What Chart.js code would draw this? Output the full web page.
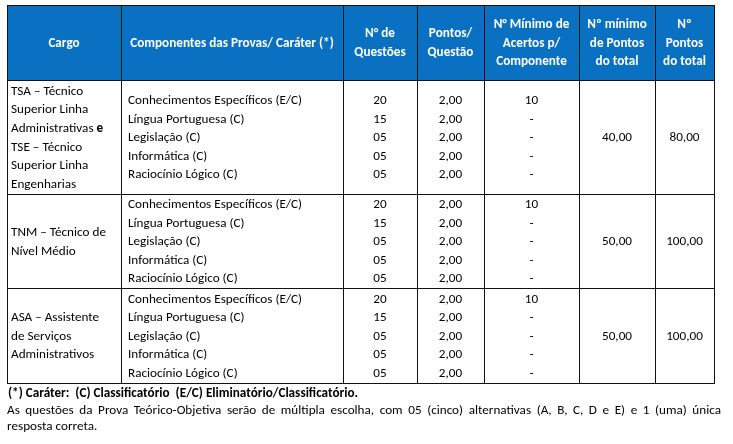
<!DOCTYPE html>
<html lang="pt-BR">
<head>
<meta charset="utf-8">
<title>Quadro de provas</title>
<script src="https://cdn.jsdelivr.net/npm/chart.js@4.4.0/dist/chart.umd.min.js"></script>
<style>
  html, body { margin: 0; padding: 0; background: #fff; }
  #tabela { display: block; }
</style>
</head>
<body>
<canvas id="tabela" width="733" height="444"></canvas>
<script>
// dados do quadro
const cabecalhos = [
  ["Cargo"],
  ["Componentes das Provas/ Caráter (*)"],
  ["N° de", "Questões"],
  ["Pontos/", "Questão"],
  ["N° Mínimo de", "Acertos p/", "Componente"],
  ["Nº mínimo", "de Pontos", "do total"],
  ["Nº", "Pontos", "do total"]
];
const cargos = [
  ["TSA – Técnico", "Superior Linha", "Administrativas *e", "TSE – Técnico", "Superior Linha", "Engenharias"],
  ["TNM – Técnico de", "Nível Médio"],
  ["ASA – Assistente", "de Serviços", "Administrativos"]
];
const componentes = ["Conhecimentos Específicos (E/C)", "Língua Portuguesa (C)", "Legislação (C)", "Informática (C)", "Raciocínio Lógico (C)"];
const numQuestoes = ["20", "15", "05", "05", "05"];
const pontosPorQuestao = ["2,00", "2,00", "2,00", "2,00", "2,00"];
const minimoAcertos = ["10", "-", "-", "-", "-"];
const minimoPontosTotal = ["40,00", "50,00", "50,00"];
const pontosTotal = ["80,00", "100,00", "100,00"];
const notaCarater = "(*) Caráter:  (C) Classificatório  (E/C) Eliminatório/Classificatório.";
const notaTexto = [
  "As questões da Prova Teórico-Objetiva serão de múltipla escolha, com 05 (cinco) alternativas (A, B, C, D e E) e 1 (uma) única",
  "resposta correta."
];

// layout (em unidades das escalas)
const colunas = [7, 121, 343, 417, 484, 579, 655, 714];
const limitesGrupo = [80, 194, 288, 383];
const topoTabela = 5;
const entrelinha = 18.6;
const fonte = "Carlito, 'Open Sans', sans-serif";
const tamanho = 13;
const larguraRef = 174; // largura de "Conhecimentos Específicos (E/C)" no original
const azul = "#0A70C2";

let escala = 1;

function escreve(ctx, s, x, y, alinhamento, negrito, cor) {
  ctx.save();
  ctx.font = (negrito ? "bold " : "") + tamanho + "px " + fonte;
  ctx.fillStyle = cor || "#000";
  ctx.textBaseline = "middle";
  ctx.textAlign = "left";
  const w = ctx.measureText(s).width * escala;
  let x0 = x;
  if (alinhamento === "center") x0 = x - w / 2;
  if (alinhamento === "right") x0 = x - w;
  ctx.translate(x0, y);
  ctx.scale(escala, 1);
  ctx.fillText(s, 0, 0);
  ctx.restore();
  return w;
}

function largura(ctx, s, negrito) {
  ctx.save();
  ctx.font = (negrito ? "bold " : "") + tamanho + "px " + fonte;
  const w = ctx.measureText(s).width * escala;
  ctx.restore();
  return w;
}

const tabelaPlugin = {
  id: "tabela",
  afterDraw(chart) {
    const ctx = chart.ctx;
    const px = v => chart.scales.x.getPixelForValue(v);
    const py = v => chart.scales.y.getPixelForValue(v);

    ctx.save();
    ctx.font = tamanho + "px " + fonte;
    escala = larguraRef / ctx.measureText(componentes[0]).width;
    ctx.restore();

    // fundo do cabeçalho
    ctx.fillStyle = azul;
    ctx.fillRect(px(colunas[0]), py(topoTabela), px(colunas[7]) - px(colunas[0]), py(limitesGrupo[0]) - py(topoTabela));

    // textos do cabeçalho
    const meioCab = (topoTabela + limitesGrupo[0]) / 2 + 1;
    cabecalhos.forEach((linhas, c) => {
      const cx = (colunas[c] + colunas[c + 1]) / 2;
      linhas.forEach((t, i) => {
        const y = meioCab + (i - (linhas.length - 1) / 2) * entrelinha;
        escreve(ctx, t, px(cx), py(y), "center", true, "#fff");
      });
    });

    // grupos
    for (let g = 0; g < cargos.length; g++) {
      const meio = (limitesGrupo[g] + limitesGrupo[g + 1]) / 2 + 1;
      cargos[g].forEach((t, i) => {
        const y = py(meio + (i - (cargos[g].length - 1) / 2) * entrelinha);
        const partes = t.split("*");
        let x = px(colunas[0] + 4);
        partes.forEach((p, k) => {
          if (!p) return;
          x += escreve(ctx, p, x, y, "left", k > 0);
        });
      });
      componentes.forEach((t, i) => {
        const y = py(meio + (i - (componentes.length - 1) / 2) * entrelinha);
        escreve(ctx, t, px(colunas[1] + 7), y, "left", false);
        escreve(ctx, numQuestoes[i], px((colunas[2] + colunas[3]) / 2), y, "center", false);
        escreve(ctx, pontosPorQuestao[i], px((colunas[3] + colunas[4]) / 2), y, "center", false);
        escreve(ctx, minimoAcertos[i], px((colunas[4] + colunas[5]) / 2), y, "center", false);
      });
      escreve(ctx, minimoPontosTotal[g], px((colunas[5] + colunas[6]) / 2), py(meio), "center", false);
      escreve(ctx, pontosTotal[g], px((colunas[6] + colunas[7]) / 2), py(meio), "center", false);
    }

    // grade
    ctx.save();
    ctx.strokeStyle = "#111";
    ctx.lineWidth = 1;
    ctx.beginPath();
    const ultimo = limitesGrupo[limitesGrupo.length - 1];
    colunas.forEach(c => {
      ctx.moveTo(Math.round(px(c)) + 0.5, py(topoTabela));
      ctx.lineTo(Math.round(px(c)) + 0.5, py(ultimo) + 0.5);
    });
    [topoTabela].concat(limitesGrupo).forEach(r => {
      ctx.moveTo(px(colunas[0]), Math.round(py(r)) + 0.5);
      ctx.lineTo(px(colunas[7]) + 1, Math.round(py(r)) + 0.5);
    });
    ctx.stroke();
    ctx.restore();

    // notas
    escreve(ctx, notaCarater, px(8), py(394), "left", true);
    const palavras = notaTexto[0].split(" ");
    const soma = palavras.reduce((s, p) => s + largura(ctx, p, false), 0);
    const vao = (px(721) - px(7) - soma) / (palavras.length - 1);
    let x = px(7);
    palavras.forEach(p => {
      x += escreve(ctx, p, x, py(410.5), "left", false) + vao;
    });
    escreve(ctx, notaTexto[1], px(7), py(427), "left", false);
  }
};

new Chart(document.getElementById("tabela"), {
  type: "scatter",
  data: { datasets: [{ data: [] }] },
  options: {
    responsive: false,
    animation: false,
    layout: { padding: 0 },
    scales: {
      x: { type: "linear", min: 0, max: 733, display: false },
      y: { type: "linear", min: 0, max: 444, reverse: true, display: false }
    },
    plugins: { legend: { display: false }, tooltip: { enabled: false } }
  },
  plugins: [tabelaPlugin]
});
</script>
</body>
</html>
